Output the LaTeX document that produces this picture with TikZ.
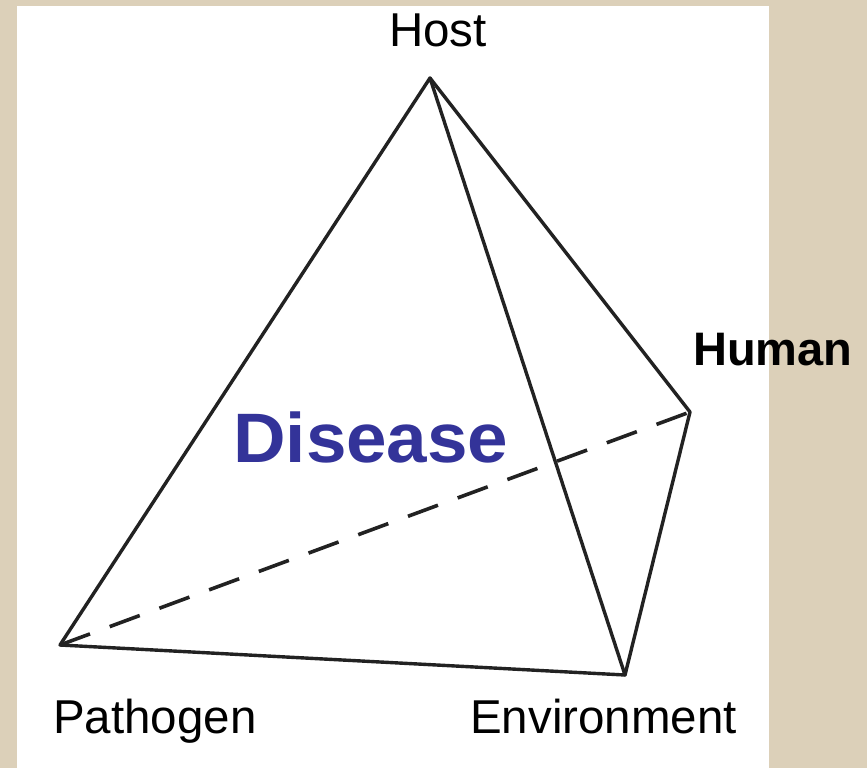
\documentclass[tikz,border=0pt]{standalone}
\usepackage{fontspec}
\setmainfont{Liberation Sans}
\definecolor{sandbg}{RGB}{220,208,185}
\definecolor{diseaseblue}{RGB}{51,51,153}
\definecolor{edgegray}{RGB}{34,34,34}
\tikzset{
  edge/.style={draw=edgegray, line width=3.4pt, line join=round, line cap=round},
  hidden/.style={edge, line width=3.6pt, line cap=butt, dash pattern=on 32pt off 21pt},
  vlbl/.style={font=\fontsize{47.5}{52}\selectfont, inner sep=0pt},
  bigword/.style={font=\fontsize{70}{76}\selectfont\bfseries, text=diseaseblue, inner sep=0pt, xscale=1.04},
}

\begin{document}
\begin{tikzpicture}[x=1pt, y=-1pt]
  \useasboundingbox (0,0) rectangle (867,768);
  \fill[sandbg] (0,0) rectangle (867,768);
  \fill[white] (17,6) rectangle (769,768);
  % corners of the pyramid
  \coordinate (host) at (430,78);
  \coordinate (patho) at (60,645);
  \coordinate (envir) at (625,675);
  \coordinate (human) at (690,412);
  % hidden edge first
  \draw[hidden] (patho) -- (human);
  \draw[edge] (patho) -- (host) -- (envir) -- cycle;
  \draw[edge] (host) -- (human) -- (envir);
  % labels
  \node[vlbl, anchor=base] (hostlbl) at (438,47) {Host};
  \node[vlbl, anchor=base west] (patholbl) at (53,733) {Pathogen};
  \node[vlbl, anchor=base west] (envirlbl) at (470,733) {Environment};
  \node[vlbl, font=\fontsize{47}{52}\selectfont\bfseries, anchor=base west] (humanlbl) at (693,365) {Human};
  \node[bigword, anchor=base west] (diseaselbl) at (233,462) {Disease};
\end{tikzpicture}
\end{document}
